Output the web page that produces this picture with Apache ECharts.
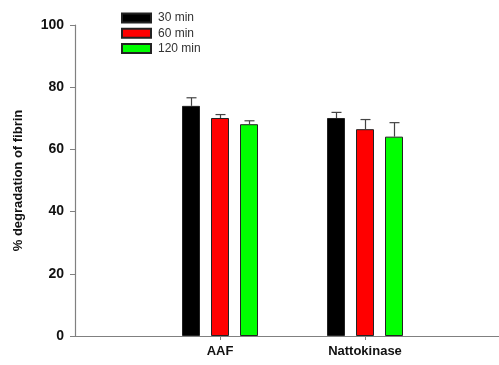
<!DOCTYPE html>
<html>
<head>
<meta charset="utf-8">
<script src="https://cdn.jsdelivr.net/npm/echarts@6/dist/echarts.min.js"></script>
<style>html,body{margin:0;padding:0;background:#fff}#c{width:499px;height:365px}</style>
</head>
<body>
<div id="c"></div>
<script>
// Categories (padded with empty slots at both ends for spacing)
var categories = ['', 'AAF', 'Nattokinase', ''];
var seriesNames = ['30 min', '60 min', '120 min'];
var seriesColors = ['#000000', '#ff0000', '#00ff00'];
var values30 = [null, 74.0, 70.1, null];
var values60 = [null, 70.1, 66.5, null];
var values120 = [null, 68.1, 64.1, null];
var err30 = [null, 2.6, 1.8, null];
var err60 = [null, 1.1, 3.1, null];
var err120 = [null, 1.1, 4.5, null];
var yTicks = [0, 20, 40, 60, 80, 100];

var allValues = [values30, values60, values120];
var allErr = [err30, err60, err120];
var BAR_W = 18, BAR_GAP = 11;

var series = [];
allValues.forEach(function (vals, i) {
  series.push({
    name: seriesNames[i], type: 'bar', data: vals,
    barWidth: BAR_W, barGap: (BAR_GAP / BAR_W * 100) + '%',
    itemStyle: { color: seriesColors[i], borderColor: '#222', borderWidth: 1 },
    z: 2
  });
});
allValues.forEach(function (vals, i) {
  var offset = (i - 1) * (BAR_W + BAR_GAP);
  var data = [];
  vals.forEach(function (v, k) { if (v != null) data.push([k, v, v + allErr[i][k]]); });
  series.push({
    type: 'custom', name: seriesNames[i] + ' err', data: data, z: 3,
    renderItem: function (params, api) {
      var low = api.coord([api.value(0), api.value(1)]);
      var high = api.coord([api.value(0), api.value(2)]);
      var x = Math.round(low[0] + offset) + 0.5;
      var st = { stroke: '#444', lineWidth: 1.2 };
      return { type: 'group', children: [
        { type: 'line', shape: { x1: x, y1: low[1], x2: x, y2: high[1] }, style: st },
        { type: 'line', shape: { x1: x - 5, y1: high[1], x2: x + 5, y2: high[1] }, style: st }
      ]};
    }
  });
});

var chart = echarts.init(document.getElementById('c'), null, { renderer: 'canvas' });
chart.setOption({
  animation: false,
  backgroundColor: '#fff',
  textStyle: { fontFamily: 'Liberation Sans, Arial, sans-serif' },
  legend: {
    data: seriesNames, orient: 'vertical', left: 121, top: 12, padding: 0,
    itemWidth: 29, itemHeight: 9, itemGap: 3.3,
    textStyle: { fontSize: 12, color: '#333', padding: [0, 0, 0, 2] },
    icon: 'rect'
  },
  grid: { left: 75, width: 435, top: 25, height: 311, containLabel: false,
    outerBoundsMode: 'none' },
  xAxis: {
    type: 'category', data: categories, boundaryGap: false,
    axisLine: { lineStyle: { color: '#808080', width: 1.2 } },
    axisTick: { show: true, length: 4, lineStyle: { color: '#808080' },
      interval: function (idx, val) { return val !== ''; } },
    axisLabel: { fontSize: 13, fontWeight: 'bold', color: '#111', margin: 9,
      interval: 0 },
    splitLine: { show: false }
  },
  yAxis: {
    type: 'value', min: yTicks[0], max: yTicks[yTicks.length - 1], interval: 20,
    name: '% degradation of fibrin', nameLocation: 'middle', nameGap: 50,
    nameTextStyle: { fontSize: 13, fontWeight: 'bold', color: '#111' },
    axisLine: { show: true, lineStyle: { color: '#808080', width: 1.2 } },
    axisTick: { show: true, length: 5, lineStyle: { color: '#808080' } },
    axisLabel: { fontSize: 14, fontWeight: 'bold', color: '#111', margin: 11 },
    splitLine: { show: false }
  },
  series: series
});
</script>
</body>
</html>
